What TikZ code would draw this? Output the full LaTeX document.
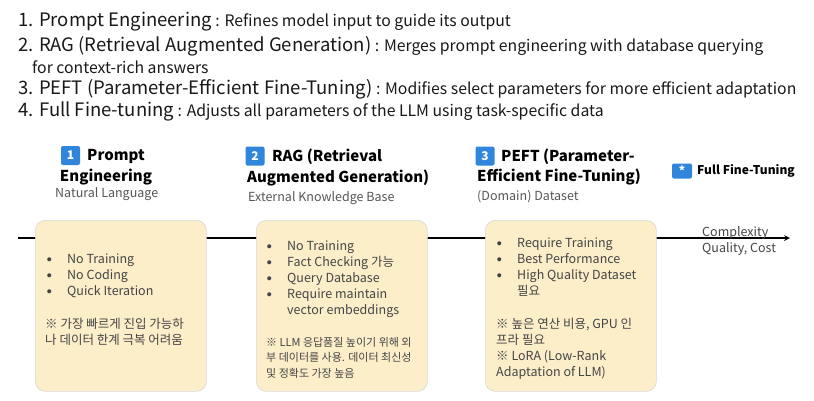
\documentclass[tikz,border=0pt]{standalone}
\usepackage{fontspec}
\setmainfont{Noto Sans CJK KR}
\usetikzlibrary{positioning}
\definecolor{cardfill}{HTML}{FDEECA}
\definecolor{cardline}{HTML}{DADADA}
\definecolor{numblue}{HTML}{2F86DA}
\definecolor{txtgray}{HTML}{444444}
\definecolor{subgray}{HTML}{555555}
\newcommand{\fs}[2]{\fontsize{#1}{#2}\selectfont}
\newcommand{\bitem}[1]{\makebox[20pt][l]{\raisebox{2pt}{\fs{4.5}{16}●}}#1}
\newcommand{\lhead}[1]{{\fs{18.5}{22}#1}}
\tikzset{
 listline/.style={anchor=west,inner sep=0pt,text=black!90,font=\fs{15.8}{20}},
 card/.style={draw=cardline,fill=cardfill,rounded corners=10pt,line width=0.7pt,
  anchor=north west,minimum width=171pt,minimum height=171pt},
 cardtext/.style={anchor=north west,align=left,inner sep=0pt,text=txtgray,font=\fs{12.5}{16}},
 numbox/.style={fill=numblue,rounded corners=2pt,text=white,font=\fs{12}{12}\bfseries,
  minimum size=19pt,inner sep=0pt},
 title/.style={inner sep=0pt,font=\fs{15}{19}\bfseries},
 subtitle/.style={anchor=west,inner sep=0pt,text=subgray,font=\fs{12.5}{16}},
}
\begin{document}
\begin{tikzpicture}[x=1pt,y=-1pt,>=stealth]
 \useasboundingbox[fill=white] (0,0) rectangle (814,400);
 % list of methods
 \node[listline] (l1) at (18,22) {\lhead{1. Prompt Engineering} : Refines model input to guide its output};
 \node[listline] (l2) at (18,46) {\lhead{2. RAG (Retrieval Augmented Generation)} : Merges prompt engineering with database querying};
 \node[listline] (l2b) at (32,67) {for context-rich answers};
 \node[listline] (l3) at (18,89) {\lhead{3. PEFT (Parameter-Efficient Fine-Tuning)} : Modifies select parameters for more efficient adaptation};
 \node[listline] (l4) at (18,111) {\lhead{4. Full Fine-tuning} : Adjusts all parameters of the LLM using task-specific data};
 % axis
 \coordinate (axisL) at (18,238);
 \coordinate (axisR) at (790,238);
 \draw[->,line width=1.6pt] (axisL) -- (axisR);
 \node[anchor=west,align=left,inner sep=0pt,text=txtgray,font=\fs{12.5}{16}] (axislab) at (702,241) {Complexity\\Quality, Cost};
 % headers
 \node[numbox] (n1) at (70.5,155.5) {1};
 \node[title,anchor=west] (t1a) at (87,156) {Prompt};
 \node[title] (t1b) at (106,177) {Engineering};
 \node[subtitle] (s1) at (55,194) {Natural Language};
 \node[numbox] (n2) at (255,156) {2};
 \node[title,anchor=west] (t2a) at (272,157) {RAG (Retrieval};
 \node[title,anchor=west] (t2b) at (247,178) {Augmented Generation)};
 \node[subtitle] (s2) at (248,198) {External Knowledge Base};
 \node[numbox] (n3) at (485,156) {3};
 \node[title,anchor=west] (t3a) at (501,157) {PEFT (Parameter-};
 \node[title,anchor=west] (t3b) at (477,177) {Efficient Fine-Tuning)};
 \node[subtitle] (s3) at (477,197) {(Domain) Dataset};
 \node[numbox,minimum width=20pt,minimum height=15pt] (n4) at (682,171) {*};
 \node[inner sep=0pt,anchor=west,font=\fs{12}{14}\bfseries] (t4) at (697,171) {Full Fine-Tuning};
 % cards
 \node[card] (c1) at (35,220) {};
 \node[card] (c2) at (256,220) {};
 \node[card] (c3) at (485,220) {};
 \node[cardtext] (c1items) at (47,254) {\bitem{No Training}\\\bitem{No Coding}\\\bitem{Quick Iteration}};
 \node[cardtext] (c1note) at (45,318) {※ 가장 빠르게 진입 가능하\\나 데이터 한계 극복 어려움};
 \node[cardtext] (c2items) at (267,241) {\bitem{No Training}\\\bitem{Fact Checking 가능}\\\bitem{Query Database}\\\bitem{Require maintain}\\\hspace*{20pt}vector embeddings};
 \node[cardtext,font=\fs{11}{15.5}] (c2note) at (266,337) {※ LLM 응답품질 높이기 위해 외\\부 데이터를 사용. 데이터 최신성\\및 정확도 가장 높음};
 \node[cardtext] (c3items) at (497,238) {\bitem{Require Training}\\\bitem{Best Performance}\\\bitem{High Quality Dataset}\\\hspace*{20pt}필요};
 \node[cardtext] (c3note) at (496,318) {※ 높은 연산 비용, GPU 인\\프라 필요\\※ LoRA (Low-Rank\\Adaptation of LLM)};
\end{tikzpicture}
\end{document}
